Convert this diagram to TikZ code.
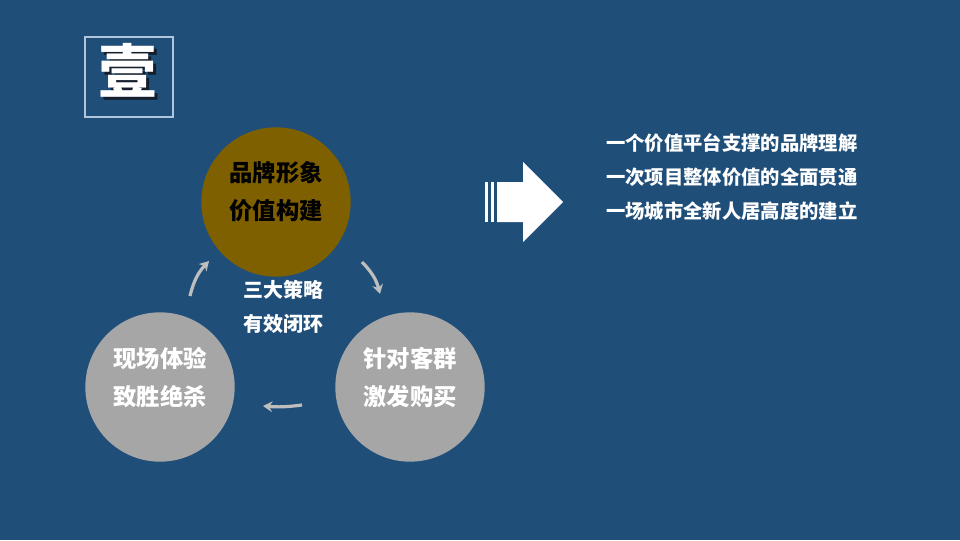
\documentclass[tikz,border=0pt]{standalone}
\usepackage{fontspec}
\usepackage{xcolor}
\usetikzlibrary{arrows.meta}
\newfontfamily\cjk{Noto Sans CJK SC}

\definecolor{fond}{RGB}{31,78,121}
\definecolor{dore}{RGB}{127,96,0}
\definecolor{gris}{RGB}{166,166,166}
\definecolor{fleche}{RGB}{190,190,190}
\definecolor{cadre}{RGB}{175,198,222}
\definecolor{ombre}{RGB}{20,30,45}

\begin{document}
\begin{tikzpicture}[x=0.75pt,y=-0.75pt,
  rond/.style={circle, minimum width=112pt, inner sep=0pt},
  grand/.style={font=\cjk\bfseries\fontsize{17.5}{28.5}\selectfont, align=center},
  moyen/.style={font=\cjk\bfseries\fontsize{15}{25.5}\selectfont, align=center, text=white},
  ligne/.style={font=\cjk\bfseries\fontsize{14.5}{20}\selectfont, anchor=west, text=white, inner sep=0pt},
  petite/.style={draw=fleche, line width=2.4pt, -{Stealth[length=7pt,width=8pt]}}]

% Fond
\fill[fond] (0,0) rectangle (960,540);
\useasboundingbox (0,0) rectangle (960,540);

% Cadre du titre (caractere avec ombre)
\draw[cadre, line width=0.8pt] (85,37) rectangle (173,117);
\node[text=white, font=\cjk\bfseries\fontsize{44}{44}\selectfont] (titre) at (128,72)
  {\rlap{\kern2pt\raisebox{-2pt}{\textcolor{ombre}{壹}}}壹};

% Les trois cercles
\node[rond, fill=dore] (marque) at (276,202) {};
\node[rond, fill=gris] (terrain) at (160,387) {};
\node[rond, fill=gris] (cible) at (410,387) {};
\node[grand, text=black] (marquetxt) at ([yshift=8pt]marque.center) {品牌形象\\价值构建};
\node[grand, text=white] (terraintxt) at ([yshift=7pt]terrain.center) {现场体验\\致胜绝杀};
\node[grand, text=white] (cibletxt) at ([yshift=7pt]cible.center) {针对客群\\激发购买};

% Texte du milieu
\node[moyen] (boucle) at (283,307) {三大策略\\有效闭环};

% Petites fleches
\coordinate (g1) at (190,296);
\coordinate (g2) at (209,261);
\coordinate (d1) at (362,262);
\coordinate (d2) at (380,294);
\coordinate (b1) at (302,405);
\coordinate (b2) at (263,406);
\draw[petite] (g1) to[bend left=15] (g2);
\draw[petite] (d1) to[bend left=15] (d2);
\draw[petite] (b1) to[bend left=6] (b2);

% Grande fleche
\fill[white] (485,182) rectangle (488,222);
\fill[white] (491,182) rectangle (494,222);
\fill[white] (497,182) -- (523,182) -- (523,162) -- (563,202) -- (523,242) -- (523,222) -- (497,222) -- cycle;

% Texte de droite
\node[ligne] (l1) at (606,143) {一个价值平台支撑的品牌理解};
\node[ligne] (l2) at (606,177) {一次项目整体价值的全面贯通};
\node[ligne] (l3) at (606,211) {一场城市全新人居高度的建立};

\end{tikzpicture}
\end{document}
